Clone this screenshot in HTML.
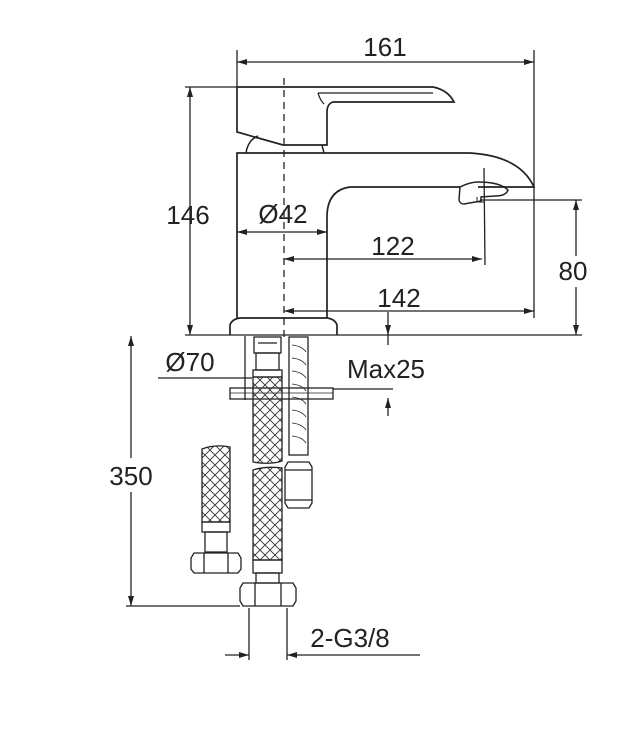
<!DOCTYPE html>
<html><head><meta charset="utf-8"><style>
html,body{margin:0;padding:0;background:#fff;}
svg{display:block}
text{font-family:"Liberation Sans",sans-serif;font-size:26px;fill:#222;}
</style></head><body>
<svg width="644" height="730" viewBox="0 0 644 730" xmlns="http://www.w3.org/2000/svg">
<defs>
<pattern id="hatch" width="10" height="10" patternUnits="userSpaceOnUse">
<path d="M0 0L10 10M10 0L0 10" stroke="#333" stroke-width="0.9"/>
</pattern>
<marker id="a" markerWidth="10" markerHeight="6" refX="10" refY="3" orient="auto" markerUnits="userSpaceOnUse">
<path d="M0 0L10 3L0 6z" fill="#222"/></marker>
<marker id="b" markerWidth="10" markerHeight="6" refX="0" refY="3" orient="auto" markerUnits="userSpaceOnUse">
<path d="M10 0L0 3L10 6z" fill="#222"/></marker>
</defs>
<g fill="none" stroke="#222" stroke-width="1.3">
<line x1="237" y1="50" x2="237" y2="88"/>
<line x1="534" y1="50" x2="534" y2="318"/>
<line x1="237" y1="62" x2="534" y2="62" marker-start="url(#b)" marker-end="url(#a)"/>
<line x1="185" y1="87" x2="237" y2="87"/>
<line x1="190" y1="87" x2="190" y2="335" marker-start="url(#b)" marker-end="url(#a)"/>
<path d="M237 87 L433 87 Q448 90 454 102 L333 102 Q327 104 327 112 L327 145 L283 145 L237 132 Z" stroke-width="1.7"/>
<path d="M318 93 L433 93"/>
<path d="M318 93 Q320 100 324 104" />
<path d="M246 153 Q248 140 258 136 M322 145 L324 153" stroke-width="1.5"/>
<path d="M237 318 L237 153 L470 153 Q520 156 534 187 L478 187 M460 187 L350 187 Q328 190 327 215 L327 318" stroke-width="1.7"/>
<path d="M460 187 Q470 182 478 182 Q500 182 508 190 Q506 196 495 196 L481 197 L481 201 L464 204 Q460 204 459 200 Z" stroke-width="1.5"/>
<path d="M477 197 L477 202 L484 202" stroke-width="1"/>
<path d="M230 335 L230 325 Q232 319 240 318 L327 318 Q335 319 337 325 L337 335" stroke-width="1.7"/>
<line x1="185" y1="335" x2="582" y2="335"/>
<line x1="284" y1="78" x2="284" y2="340" stroke-dasharray="7,5"/>
<line x1="237" y1="232" x2="327" y2="232" marker-start="url(#b)" marker-end="url(#a)"/>
<line x1="484" y1="168" x2="485" y2="265"/>
<line x1="284" y1="259" x2="482" y2="259" marker-start="url(#b)" marker-end="url(#a)"/>
<line x1="284" y1="311" x2="534" y2="311" marker-start="url(#b)" marker-end="url(#a)"/>
<line x1="480" y1="200" x2="582" y2="200"/>
<line x1="576" y1="200" x2="576" y2="256" marker-start="url(#b)"/>
<line x1="576" y1="287" x2="576" y2="335" marker-end="url(#a)"/>
<line x1="388" y1="312" x2="388" y2="335" marker-end="url(#a)"/>
<line x1="388" y1="416" x2="388" y2="398" marker-end="url(#a)"/>
<line x1="388" y1="335" x2="388" y2="345"/>
<line x1="333" y1="389" x2="393" y2="389"/>
<line x1="131" y1="336" x2="131" y2="458" marker-start="url(#b)"/>
<line x1="131" y1="492" x2="131" y2="606" marker-end="url(#a)"/>
<line x1="126" y1="606" x2="240" y2="606"/>
<line x1="158" y1="378" x2="252" y2="378"/>
<line x1="245" y1="336" x2="245" y2="400"/>
<rect x="230" y="388" width="103" height="11"/>
<line x1="230" y1="393" x2="333" y2="393" stroke-width="0.8"/>
<rect x="254" y="337" width="27" height="16"/>
<line x1="258" y1="343" x2="277" y2="343"/>
<rect x="256" y="353" width="23" height="17"/>
<rect x="253" y="370" width="29" height="7"/>
<path d="M253 377 L282 377 L282 461 Q270 465 253 462 Z" fill="url(#hatch)"/>
<path d="M253 470 Q265 466 282 468 L282 560 L253 560 Z" fill="url(#hatch)"/>
<rect x="253" y="560" width="29" height="13"/>
<rect x="256" y="573" width="23" height="10"/>
<path d="M243 583 L293 583 L296 588 L296 601 L293 606 L243 606 L240 601 L240 588 Z"/>
<line x1="255" y1="583" x2="255" y2="606"/><line x1="281" y1="583" x2="281" y2="606"/>
<rect x="289" y="337" width="19" height="118"/>
<path d="M292 345 Q302 346 306 352 M292 358 Q302 359 306 365 M292 371 Q302 372 306 378 M292 384 Q302 385 306 391 M292 397 Q302 398 306 404 M292 410 Q302 411 306 417 M292 423 Q302 424 306 430 M292 436 Q302 437 306 443" stroke-width="0.8"/>
<path d="M288 462 L309 462 L312 467 L312 503 L309 508 L288 508 L285 503 L285 467 Z"/>
<line x1="285" y1="470" x2="312" y2="470"/><line x1="285" y1="500" x2="312" y2="500"/>
<path d="M202 449 Q215 444 230 447 L230 522 L202 522 Z" fill="url(#hatch)"/>
<rect x="202" y="522" width="28" height="10"/>
<rect x="205" y="532" width="22" height="20"/>
<path d="M194 553 L238 553 L241 558 L241 569 L238 573 L194 573 L191 569 L191 558 Z"/>
<line x1="204" y1="553" x2="204" y2="573"/><line x1="228" y1="553" x2="228" y2="573"/>
<line x1="249" y1="608" x2="249" y2="660"/>
<line x1="287" y1="608" x2="287" y2="660"/>
<line x1="225" y1="655" x2="249" y2="655" marker-end="url(#a)"/>
<line x1="420" y1="655" x2="287" y2="655" marker-end="url(#a)"/>
</g>
<text x="385" y="56" text-anchor="middle">161</text>
<text x="188" y="224" text-anchor="middle">146</text>
<text x="283" y="223" text-anchor="middle">Ø42</text>
<text x="393" y="255" text-anchor="middle">122</text>
<text x="399" y="307" text-anchor="middle">142</text>
<text x="573" y="280" text-anchor="middle">80</text>
<text x="190" y="371" text-anchor="middle">Ø70</text>
<text x="386" y="378" text-anchor="middle">Max25</text>
<text x="131" y="485" text-anchor="middle">350</text>
<text x="350" y="647" text-anchor="middle">2-G3/8</text>
</svg>
</body></html>
